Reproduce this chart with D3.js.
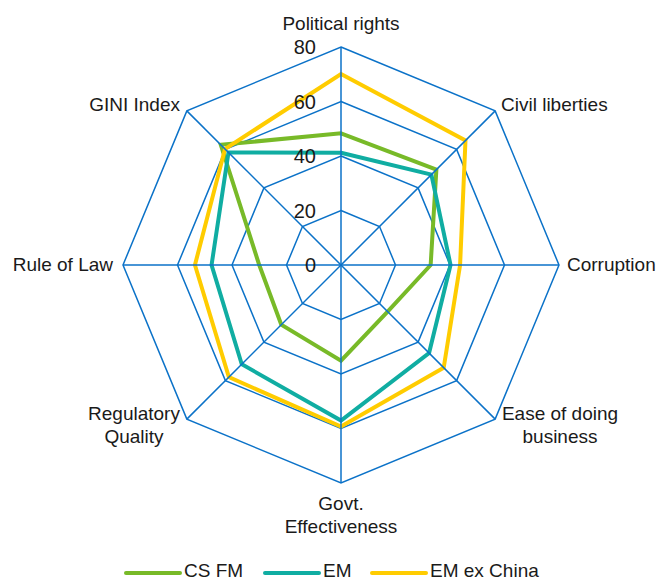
<!DOCTYPE html>
<html>
<head>
<meta charset="utf-8">
<script src="https://cdn.jsdelivr.net/npm/d3@7"></script>
<style>
  body { margin: 0; background: #fff; }
  text { font-family: "Liberation Sans", Arial, sans-serif; fill: #1a1a1a; }
</style>
</head>
<body>
<div id="chart"></div>
<script>
// radar chart: CS FM vs EM vs EM ex China

const axes = ["Political rights", "Civil liberties", "Corruption", "Ease of doing business",
  "Govt. Effectiveness", "Regulatory Quality", "Rule of Law", "GINI Index"];
const csFM = [48.3, 49.5, 32.9, 24.2, 35.1, 31, 30, 62.4];
const em = [41.2, 46.9, 40.2, 45.7, 57.1, 51.5, 47.5, 58.4];
const emExChina = [70.1, 64.6, 43.7, 53.3, 59.3, 58.2, 53.6, 60.2];
const ticks = [0, 20, 40, 60, 80];

const seriesNames = ["CS FM", "EM", "EM ex China"];
const seriesData = [csFM, em, emExChina];
const colors = ["#78BA28", "#10ADA2", "#FFCC00"];

let width = 660, height = 582;
let cx = 341, cy = 265;

let r = d3.scaleLinear().domain([0, 80]).range([0, 218]);
let angle = d3.scalePoint().domain(axes).range([0, 2 * Math.PI * 7 / 8]);

// point for axis name and value
let pt = (name, v) => {
  let a = angle(name);
  return [Math.sin(a) * r(v), -Math.cos(a) * r(v)];
};

let svg = d3.select("#chart").append("svg")
  .attr("width", width)
  .attr("height", height);

let g = svg.append("g").attr("transform", `translate(${cx},${cy})`);

let grid = "#0B72C8";

// rings
g.selectAll("polygon.ring")
  .data(ticks.slice(1))
  .enter()
  .append("polygon")
    .attr("class", "ring")
    .attr("points", t => axes.map(a => pt(a, t).join(",")).join(" "))
    .attr("fill", "none")
    .attr("stroke", grid)
    .attr("stroke-width", 1.5);

// series
let line = d3.line().curve(d3.curveLinearClosed);

g.selectAll("path.serie")
  .data(seriesData)
  .enter()
  .append("path")
    .attr("class", "serie")
    .attr("d", d => line(axes.map((a, i) => pt(a, d[i]))))
    .attr("fill", "none")
    .attr("stroke", (d, i) => colors[i])
    .attr("stroke-width", 4)
    .attr("stroke-linejoin", "miter");

// spokes on top
g.selectAll("line.spoke")
  .data(axes)
  .enter()
  .append("line")
    .attr("class", "spoke")
    .attr("x1", 0).attr("y1", 0)
    .attr("x2", a => pt(a, 80)[0])
    .attr("y2", a => pt(a, 80)[1])
    .attr("stroke", grid)
    .attr("stroke-width", 1.5);

// tick labels
g.selectAll("text.tick")
  .data(ticks)
  .enter()
  .append("text")
    .attr("class", "tick")
    .attr("x", -25)
    .attr("y", t => -r(t))
    .attr("dy", "0.36em")
    .attr("text-anchor", "end")
    .style("font-size", "20px")
    .text(t => t);

// axis labels: [lines, x, y of first baseline, anchor]
let labelPos = {
  "Political rights": [["Political rights"], 0, -235, "middle"],
  "Civil liberties": [["Civil liberties"], 160, -154, "start"],
  "Corruption": [["Corruption"], 226, 6, "start"],
  "Ease of doing business": [["Ease of doing", "business"], 219, 155, "middle"],
  "Govt. Effectiveness": [["Govt.", "Effectiveness"], 0, 245, "middle"],
  "Regulatory Quality": [["Regulatory", "Quality"], -207, 155, "middle"],
  "Rule of Law": [["Rule of Law"], -228, 6, "end"],
  "GINI Index": [["GINI Index"], -161, -154, "end"]
};

axes.forEach(a => {
  let [lines, x, y, anchor] = labelPos[a];
  let t = g.append("text")
    .attr("text-anchor", anchor)
    .style("font-size", "19px");
  lines.forEach((l, i) => {
    t.append("tspan").attr("x", x).attr("y", y + i * 23).text(l);
  });
});

// legend
let legendX = [126, 265, 372];
let leg = svg.append("g");
seriesNames.forEach((s, i) => {
  leg.append("line")
    .attr("x1", legendX[i]).attr("x2", legendX[i] + 54)
    .attr("y1", 573).attr("y2", 573)
    .attr("stroke", colors[i])
    .attr("stroke-width", 4)
    .attr("stroke-linecap", "round");
  leg.append("text")
    .attr("x", legendX[i] + 58)
    .attr("y", 577)
    .style("font-size", "19px")
    .text(s);
});
</script>
</body>
</html>
